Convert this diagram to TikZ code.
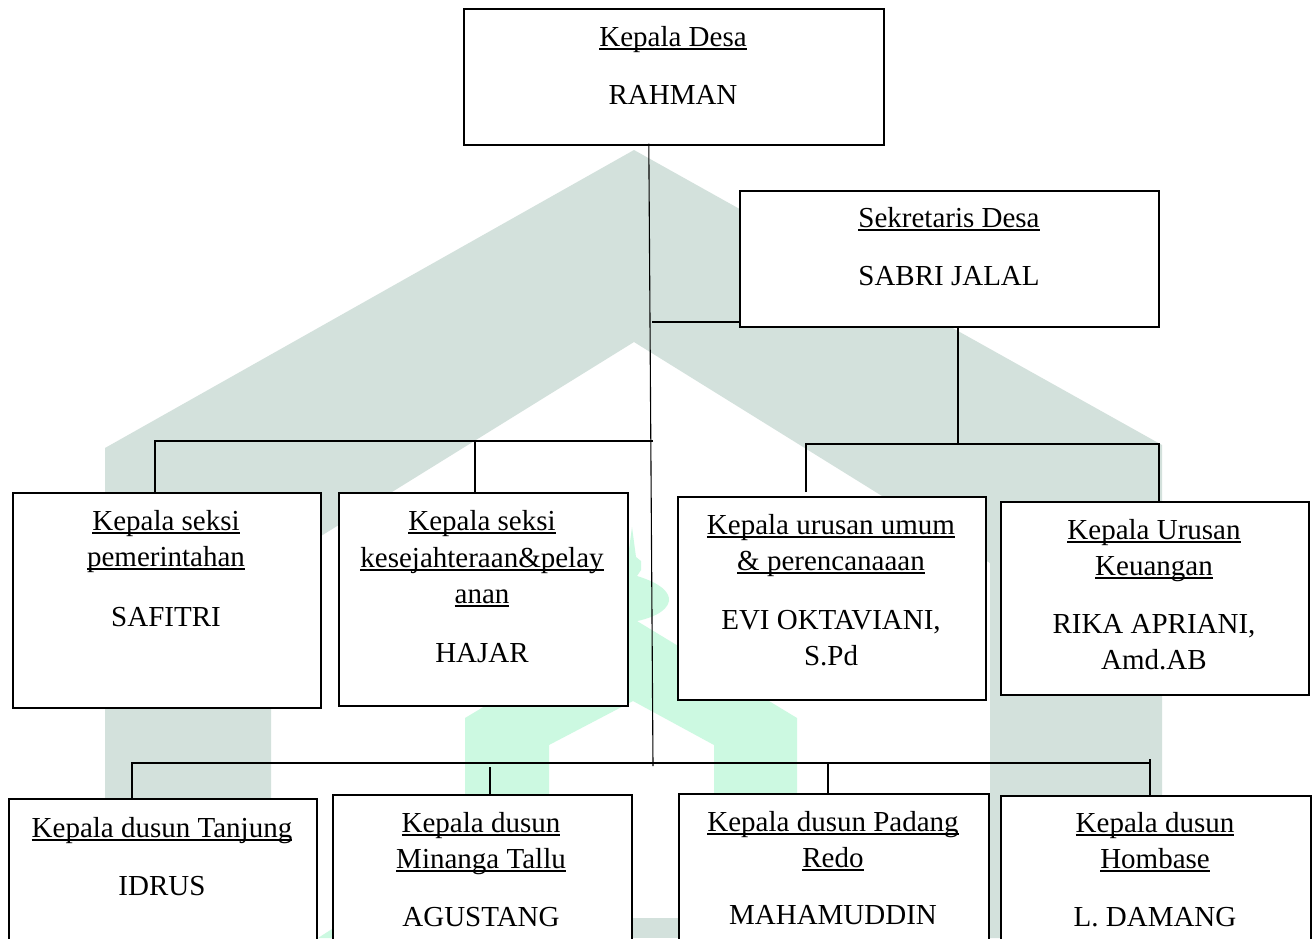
\documentclass[tikz,border=0pt]{standalone}
\usepackage{fontspec}
\setmainfont{Liberation Serif}
\usetikzlibrary{calc}
\definecolor{wmgray}{RGB}{211,225,220}
\definecolor{wmmint}{RGB}{204,249,225}
\newsavebox\myulbox
\newcommand\myul[1]{\leavevmode\sbox\myulbox{#1}\rlap{\rule[-3.5pt]{\wd\myulbox}{1.5pt}}\usebox\myulbox}
\begin{document}
\begin{tikzpicture}[x=1pt, y=-1pt,
  box/.style={draw=black, line width=1.6pt, fill=white, rectangle, inner sep=0pt, anchor=north west},
  ln/.style={anchor=base, inner sep=0pt, font=\fontsize{29}{36}\selectfont},
  con/.style={line width=1.1pt, draw=black}]
\useasboundingbox (0,0) rectangle (1314,938);
\clip (0,0) rectangle (1314,938);
\fill[white] (0,0) rectangle (1314,938);
% watermark
\fill[wmgray] (634,150) -- (1162,445) -- (1162,938) -- (990,938) -- (990,563) -- (634,342) -- (271,567) -- (271,938) -- (105,938) -- (105,448) -- cycle;
\fill[wmgray] (600,918) rectangle (1000,938);
\fill[wmmint] (632,618) -- (797,718) -- (797,938) -- (714,938) -- (714,745) -- (633,701) -- (549,745) -- (549,938) -- (465,938) -- (465,718) -- cycle;
\fill[wmmint] (632,527) -- (636,557) -- (641,561) -- (641,570) -- (637,576) .. controls (660,583) and (670,592) .. (669,601) .. controls (667,612) and (650,619) .. (632,622) .. controls (614,619) and (597,612) .. (595,601) .. controls (594,592) and (604,583) .. (627,576) -- (623,570) -- (623,561) -- (628,557) -- cycle;
\fill[wmmint] (318,938) -- (332,929) -- (332,938) -- cycle;
% connector coordinates
\coordinate (mEnd) at (653,766);
\coordinate (sj) at (652,322);
\coordinate (lb) at (653,441);
\coordinate (l1) at (155,441);
\coordinate (l2) at (475,441);
\coordinate (rb) at (958,444);
\coordinate (r1) at (806,444);
\coordinate (r2) at (1159,444);
\coordinate (d0) at (132,763);
\coordinate (d2) at (490,763);
\coordinate (d3) at (828,763);
\coordinate (d4) at (1150,763);
% boxes
\node[box, minimum width=420pt, minimum height=136pt] (top) at (463,8) {};
\node[box, minimum width=419pt, minimum height=136pt] (sek) at (739,190) {};
\node[box, minimum width=308pt, minimum height=215pt] (b1) at (12,492) {};
\node[box, minimum width=289pt, minimum height=213pt] (b2) at (338,492) {};
\node[box, minimum width=308pt, minimum height=203pt] (b3) at (677,496) {};
\node[box, minimum width=308pt, minimum height=193pt] (b4) at (1000,501) {};
\node[box, minimum width=308pt, minimum height=170pt] (c1) at (8,798) {};
\node[box, minimum width=299pt, minimum height=170pt] (c2) at (332,794) {};
\node[box, minimum width=310pt, minimum height=170pt] (c3) at (678,793) {};
\node[box, minimum width=310pt, minimum height=170pt] (c4) at (1000,795) {};
% connectors
\draw[con] ($(top.south)+(-25,-2)$) -- (mEnd);
\draw[con] (sj) -- (sj -| sek.west);
\draw[con] (lb) -- (l1) -- (l1 |- b1.north);
\draw[con] (l2) -- (l2 |- b2.north);
\draw[con] (rb |- sek.south) -- (rb);
\draw[con] ($(r1 |- b3.north)+(0,-4)$) -- (r1) -- (r2) -- (r2 |- b4.north);
\draw[con] (c1.north -| d0) -- (d0) -- (d4);
\draw[con] ($(d4)+(0,-4)$) -- (d4 |- c4.north);
\draw[con] ($(d2)+(0,4)$) -- (d2 |- c2.north);
\draw[con] (d3) -- (d3 |- c3.north);
% texts
\node[ln] (t1) at (673,46) {\myul{Kepala Desa}};
\node[ln] (t2) at (673,104) {RAHMAN};
\node[ln] (s1) at (949,227) {\myul{Sekretaris Desa}};
\node[ln] (s2) at (949,285) {SABRI JALAL};
\node[ln] (b1a) at (166,530) {\myul{Kepala seksi}};
\node[ln] (b1b) at (166,566) {\myul{pemerintahan}};
\node[ln] (b1c) at (166,626) {SAFITRI};
\node[ln] (b2a) at (482,530) {\myul{Kepala seksi}};
\node[ln] (b2b) at (482,567) {\myul{kesejahteraan\&pelay}};
\node[ln] (b2c) at (482,603) {\myul{anan}};
\node[ln] (b2d) at (482,662) {HAJAR};
\node[ln] (b3a) at (831,534) {\myul{Kepala urusan umum}};
\node[ln] (b3b) at (831,570) {\myul{\& perencanaaan}};
\node[ln] (b3c) at (831,629) {EVI OKTAVIANI,};
\node[ln] (b3d) at (831,665) {S.Pd};
\node[ln] (b4a) at (1154,539) {\myul{Kepala Urusan}};
\node[ln] (b4b) at (1154,575) {\myul{Keuangan}};
\node[ln] (b4c) at (1154,633) {RIKA APRIANI,};
\node[ln] (b4d) at (1154,669) {Amd.AB};
\node[ln] (c1a) at (162,837) {\myul{Kepala dusun Tanjung}};
\node[ln] (c1b) at (162,895) {IDRUS};
\node[ln] (c2a) at (481,832) {\myul{Kepala dusun}};
\node[ln] (c2b) at (481,868) {\myul{Minanga Tallu}};
\node[ln] (c2c) at (481,926) {AGUSTANG};
\node[ln] (c3a) at (833,831) {\myul{Kepala dusun Padang}};
\node[ln] (c3b) at (833,867) {\myul{Redo}};
\node[ln] (c3c) at (833,924) {MAHAMUDDIN};
\node[ln] (c4a) at (1155,832) {\myul{Kepala dusun}};
\node[ln] (c4b) at (1155,868) {\myul{Hombase}};
\node[ln] (c4c) at (1155,926) {L. DAMANG};
\end{tikzpicture}
\end{document}
